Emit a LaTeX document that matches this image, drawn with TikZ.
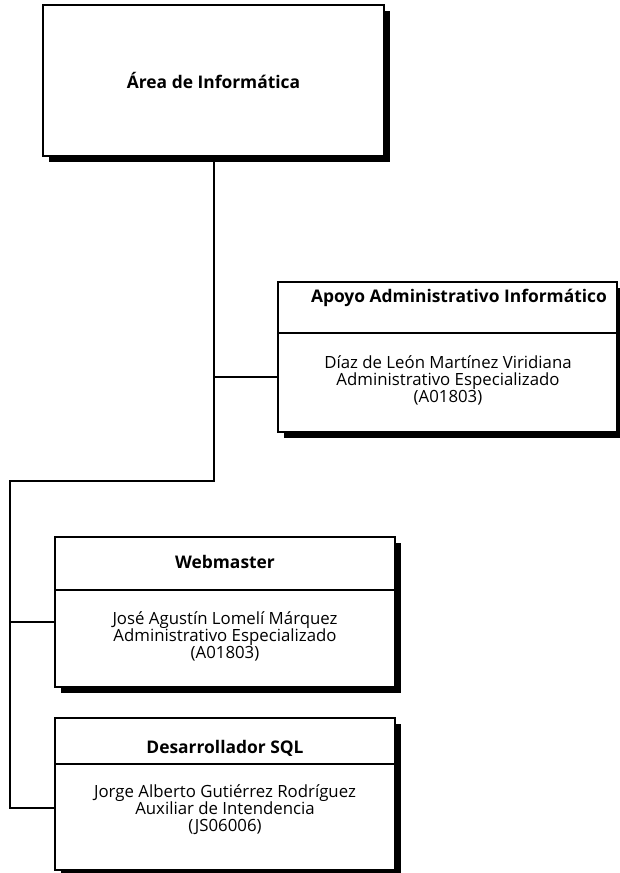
\documentclass[tikz,border=0pt]{standalone}
\usepackage{fontspec}
\setmainfont{Open Sans}
\usetikzlibrary{shadows}
\begin{document}
\begin{tikzpicture}[x=1pt,y=-1pt,
  orgbox/.style={draw=black, line width=2pt, fill=white, inner sep=0pt,
    drop shadow={shadow xshift=6pt, shadow yshift=-6pt, fill=black, opacity=1}},
  headtxt/.style={font=\bfseries\fontsize{17.4}{19}\selectfont, inner sep=0pt},
  bodytxt/.style={font=\fontsize{16.8}{17}\selectfont, align=center, inner sep=0pt},
  conn/.style={line width=2pt, line cap=rect}]
\useasboundingbox (0,0) rectangle (620,873);

% boxes
\node[orgbox, minimum width=341pt, minimum height=151pt] (top) at (213.5,80.5) {};
\node[orgbox, minimum width=339pt, minimum height=150pt] (apoyo) at (447.5,357) {};
\node[orgbox, minimum width=340pt, minimum height=150pt] (web) at (225,612) {};
\node[orgbox, minimum width=340pt, minimum height=152pt] (sql) at (225,794) {};

% header dividers
\coordinate (apoyoL) at (278,333);
\coordinate (webL) at (55,590);
\coordinate (sqlL) at (55,764);
\draw[line width=2pt] (apoyoL) -- (apoyoL -| apoyo.east);
\draw[line width=2pt] (webL) -- (webL -| web.east);
\draw[line width=2pt] (sqlL) -- (sqlL -| sql.east);

% texts
\node[headtxt] (topt) at (213.5,80) {Área de Informática};
\node[headtxt] (apoyoh) at (459,298) {Apoyo Administrativo Informático};
\node[bodytxt] (apoyob) at (448,380) {Díaz de León Martínez Viridiana\\Administrativo Especializado\\(A01803)};
\node[headtxt] (webh) at (225,562) {Webmaster};
\node[bodytxt] (webb) at (225,636) {José Agustín Lomelí Márquez\\Administrativo Especializado\\(A01803)};
\node[headtxt] (sqlh) at (225,748) {Desarrollador SQL};
\node[bodytxt] (sqlb) at (225,810) {Jorge Alberto Gutiérrez Rodríguez\\Auxiliar de Intendencia\\(JS06006)};

% connectors
\coordinate (j1) at (214,377);
\coordinate (j2) at (214,481);
\coordinate (j3) at (10,481);
\coordinate (j4) at (10,622);
\coordinate (j5) at (10,808);
\draw[conn] (top.south -| j1) -- (j2) -- (j3) -- (j5) -- (j5 -| sql.west);
\draw[conn] (j1) -- (j1 -| apoyo.west);
\draw[conn] (j4) -- (j4 -| web.west);
\end{tikzpicture}
\end{document}
